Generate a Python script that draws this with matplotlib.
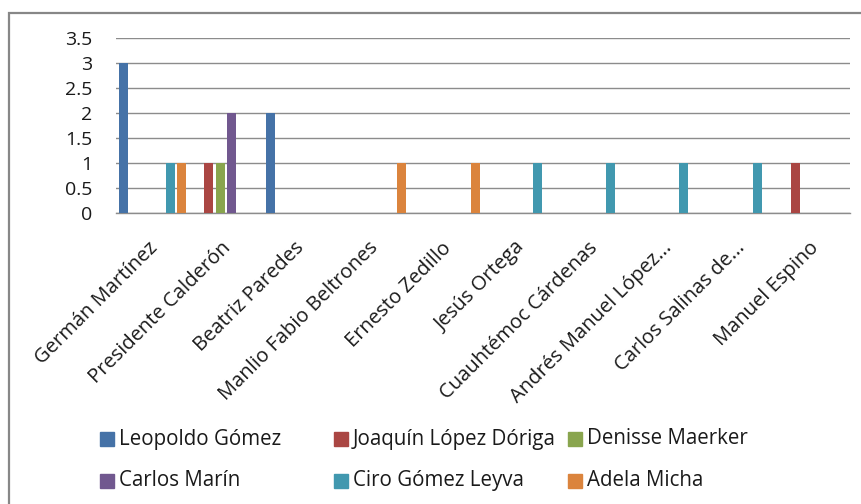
import matplotlib
matplotlib.use('Agg')
import matplotlib.pyplot as plt
import matplotlib.transforms as mtransforms
import numpy as np
from matplotlib.patches import Rectangle

plt.rcParams['font.family'] = ['Open Sans', 'DejaVu Sans']

# datos
categorias = ['Germán Martínez', 'Presidente Calderón', 'Beatriz Paredes',
              'Manlio Fabio Beltrones', 'Ernesto Zedillo', 'Jesús Ortega',
              'Cuauhtémoc Cárdenas', 'Andrés Manuel López...',
              'Carlos Salinas de...', 'Manuel Espino']
series = ['Leopoldo Gómez', 'Joaquín López Dóriga', 'Denisse Maerker',
          'Carlos Marín', 'Ciro Gómez Leyva', 'Adela Micha']
leopoldo = [3, 0, 2, 0, 0, 0, 0, 0, 0, 0]
joaquin = [0, 1, 0, 0, 0, 0, 0, 0, 0, 1]
denisse = [0, 1, 0, 0, 0, 0, 0, 0, 0, 0]
marin = [0, 2, 0, 0, 0, 0, 0, 0, 0, 0]
ciro = [1, 0, 0, 0, 0, 1, 1, 1, 1, 0]
adela = [1, 0, 0, 1, 1, 0, 0, 0, 0, 0]
valores = [leopoldo, joaquin, denisse, marin, ciro, adela]
colores = ['#4572A7', '#AA4643', '#89A54E', '#71588F', '#4198AF', '#DB843D']

W, H = 862, 504
fig = plt.figure(figsize=(W / 100, H / 100), dpi=100)

# marco gris (cortado a la derecha y abajo)
fig.add_artist(Rectangle((9.5 / W, -0.1), 1.2, 1 - 12.5 / H + 0.1,
                         transform=fig.transFigure, fill=False,
                         edgecolor='#878787', linewidth=1.6))

ax = fig.add_axes([116 / W, 1 - 213 / H, 734 / W, 175 / H])
x = np.arange(len(categorias))
paso = 0.1575
ancho = 0.123
for j, (nombre, vals) in enumerate(zip(series, valores)):
    ax.bar(x + (j - 2.5) * paso, vals, ancho, color=colores[j], label=nombre,
           zorder=3)

ax.set_xlim(-0.5, len(categorias) - 0.5)
ax.set_ylim(0, 3.5)
ax.set_yticks(np.arange(0, 3.51, 0.5))
ax.set_yticklabels(['0', '0.5', '1', '1.5', '2', '2.5', '3', '3.5'])
ax.yaxis.grid(True, color='#8c8c8c', linewidth=1.0, zorder=0)
ax.set_axisbelow(True)
for s in ['left', 'right', 'top']:
    ax.spines[s].set_visible(False)
ax.spines['bottom'].set_color('#8c8c8c')
ax.spines['bottom'].set_linewidth(1.0)
ax.tick_params(axis='y', length=0, pad=17, labelsize=14, labelcolor='#1a1a1a')
ax.tick_params(axis='x', length=0, pad=18, labelsize=14.5, labelcolor='#1a1a1a')
ax.set_xticks(x)
ax.set_xticklabels(categorias, rotation=45, ha='right', va='top',
                   rotation_mode='anchor')
# corrimiento leve a la izquierda de las etiquetas
desplazar = mtransforms.ScaledTranslation(-5 / 100, 0, fig.dpi_scale_trans)
for lbl in ax.get_xticklabels():
    lbl.set_transform(lbl.get_transform() + desplazar)

# leyenda a mano, en columnas fijas como en Excel
col_x = [100, 334, 568]
fila_y = [439, 480.5]
for j, nombre in enumerate(series):
    cx = col_x[j % 3]
    cy = fila_y[j // 3]
    fig.add_artist(Rectangle((cx / W, 1 - (cy + 7) / H), 14 / W, 14 / H,
                             transform=fig.transFigure, color=colores[j]))
    fig.text((cx + 19) / W, 1 - cy / H, nombre, fontsize=14.8,
             color='#1a1a1a', va='center', ha='left')

fig.savefig('out.png', dpi=100)
